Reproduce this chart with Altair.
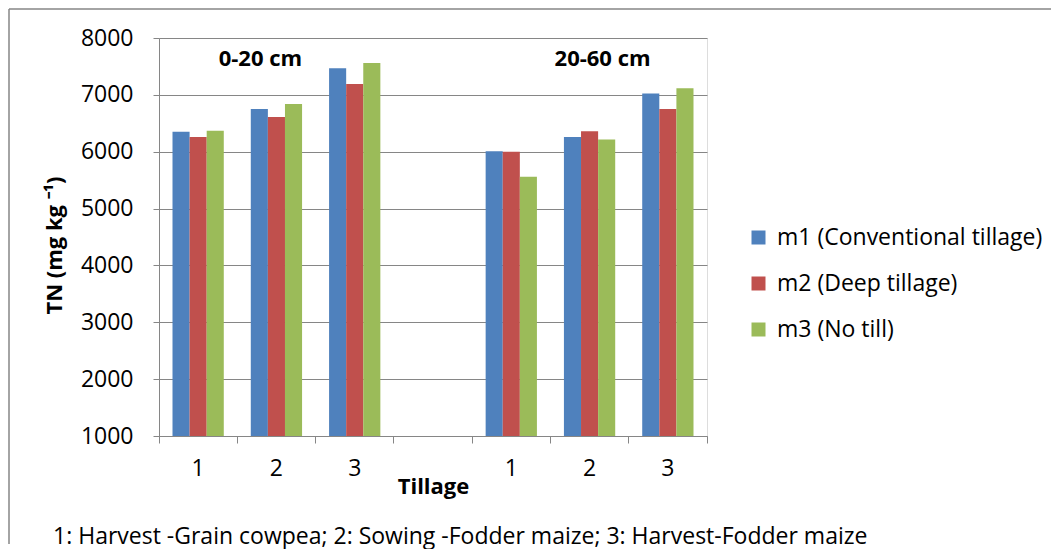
import altair as alt
import pandas as pd

# ---- data ----
slot_domain = ["a1", "a2", "a3", "gap", "b1", "b2", "b3"]
slots = ["a1", "a2", "a3", "b1", "b2", "b3"]
series = ["m1 (Conventional tillage)", "m2 (Deep tillage)", "m3 (No till)"]
m1 = [6350, 6750, 7470, 6010, 6260, 7025]
m2 = [6260, 6610, 7190, 6000, 6360, 6750]
m3 = [6370, 6840, 7560, 5560, 6215, 7115]
colors = ["#4F81BD", "#C0504D", "#9BBB59"]
y_ticks = [1000, 2000, 3000, 4000, 5000, 6000, 7000, 8000]
depth_labels = ["0-20 cm", "20-60 cm"]
depth_slots = ["a2", "b2"]
depth_y = [7630, 7630]
footnote = "1: Harvest -Grain cowpea; 2: Sowing -Fodder maize; 3: Harvest-Fodder maize"
y_title = "TN (mg kg \u207b\u00b9)"
x_title = "Tillage"

rows = []
for name, vals in zip(series, [m1, m2, m3]):
    for s, v in zip(slots, vals):
        rows.append({"slot": s, "series": name, "value": v})
df = pd.DataFrame(rows)

FONT = "Open Sans"
FS = 23
GREY = "#868686"
W, H = 548, 398

x_enc = alt.X(
    "slot:N",
    scale=alt.Scale(domain=slot_domain, paddingInner=0, paddingOuter=0),
    axis=alt.Axis(
        title=x_title,
        labelExpr="isString(datum.value) && datum.value != 'gap' ? substring(datum.value, 1) : ''",
        labelAngle=0,
        labelFontSize=FS,
        labelPadding=14,
        labelColor="black",
        tickSize=7,
        tickColor=GREY,
        domainColor=GREY,
        bandPosition=1,
        tickExtra=True,
        titleFontSize=FS - 1,
        titleFontWeight="bold",
        titleColor="black",
        titleBaseline="alphabetic",
        titleX=274,
        titleY=57,
        titleAlign="center",
        grid=False,
    ),
)

y_enc = alt.Y(
    "value:Q",
    scale=alt.Scale(domain=[1000, 8000], zero=False, nice=False),
    axis=alt.Axis(
        title=y_title,
        values=y_ticks,
        format="d",
        labelFontSize=FS,
        labelPadding=20,
        labelColor="black",
        tickSize=6,
        tickColor=GREY,
        domainColor=GREY,
        grid=True,
        gridColor=GREY,
        gridWidth=1,
        titleFontSize=FS - 1,
        titleFontWeight="bold",
        titleColor="black",
        titleAngle=270,
        titleAlign="center",
        titleBaseline="middle",
        titleX=-105,
        titleY=207,
    ),
)

bars = alt.Chart(df).mark_bar().encode(
    x=x_enc,
    xOffset=alt.XOffset(
        "series:N",
        sort=series,
        scale=alt.Scale(paddingOuter=0.79, paddingInner=0),
    ),
    y=y_enc,
    y2=alt.datum(1000),
    color=alt.Color(
        "series:N",
        sort=series,
        scale=alt.Scale(domain=series, range=colors),
        legend=alt.Legend(
            title=None,
            orient="none",
            legendX=588,
            legendY=188,
            symbolType="square",
            symbolSize=196,
            symbolStrokeWidth=0,
            labelFontSize=FS,
            labelFont=FONT,
            labelColor="black",
            labelLimit=0,
            labelOffset=7,
            rowPadding=22,
            padding=0,
        ),
    ),
)

lab_df = pd.DataFrame({"slot": depth_slots, "value": depth_y, "label": depth_labels})
lab1 = alt.Chart(lab_df.iloc[[0]]).mark_text(
    font=FONT, fontSize=FS - 1, fontWeight="bold", color="black", dx=-16, baseline="middle"
).encode(x=alt.X("slot:N"), y=alt.Y("value:Q"), text="label:N")
lab2 = alt.Chart(lab_df.iloc[[1]]).mark_text(
    font=FONT, fontSize=FS - 1, fontWeight="bold", color="black", dx=13, baseline="middle"
).encode(x=alt.X("slot:N"), y=alt.Y("value:Q"), text="label:N")

note = alt.Chart(pd.DataFrame({"t": [footnote]})).mark_text(
    font=FONT, fontSize=FS, color="black", align="left", baseline="alphabetic"
).encode(x=alt.value(-106), y=alt.value(506), text="t:N")

frame_top = alt.Chart(pd.DataFrame({"k": [0]})).mark_rule(color=GREY, strokeWidth=1.5).encode(
    x=alt.value(-150), x2=alt.value(892), y=alt.value(-29)
)
frame_left = alt.Chart(pd.DataFrame({"k": [0]})).mark_rule(color=GREY, strokeWidth=1.5).encode(
    x=alt.value(-150), y=alt.value(-29), y2=alt.value(506)
)

chart = (
    alt.layer(bars, lab1, lab2, note, frame_top, frame_left)
    .properties(width=W, height=H, padding=0)
    .configure_view(stroke=None)
    .configure(font=FONT)
)

chart.save("out.html", embed_options={"renderer": "svg", "actions": False})
